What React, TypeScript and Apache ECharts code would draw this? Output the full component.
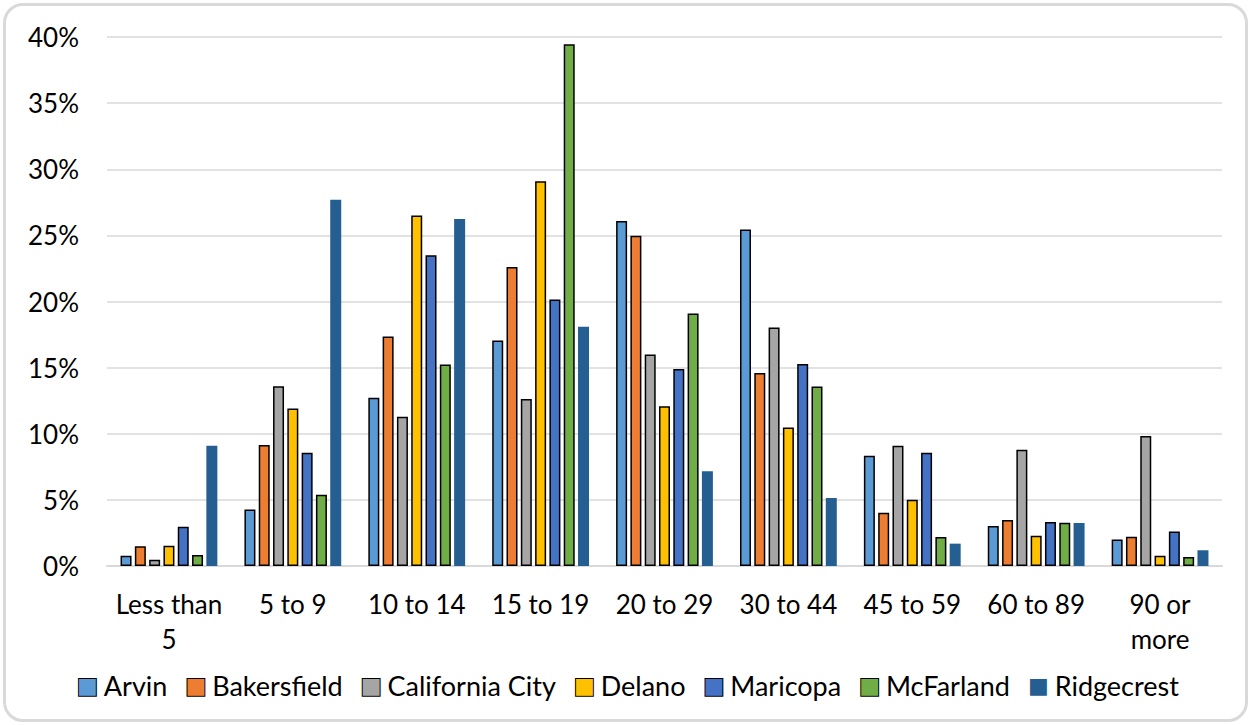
import React, { useEffect, useRef } from "react";
import * as echarts from "echarts";

const categories = ["Less than\n5", "5 to 9", "10 to 14", "15 to 19", "20 to 29", "30 to 44", "45 to 59", "60 to 89", "90 or\nmore"];
const arvin = [0.78, 4.28, 12.72, 17.06, 26.08, 25.45, 8.34, 3.02, 2.01];
const bakersfield = [1.49, 9.14, 17.36, 22.6, 24.97, 14.59, 4.03, 3.48, 2.22];
const californiaCity = [0.48, 13.6, 11.29, 12.62, 16.0, 18.04, 9.09, 8.79, 9.83];
const delano = [1.53, 11.9, 26.5, 29.1, 12.07, 10.48, 5.01, 2.29, 0.78];
const maricopa = [2.97, 8.56, 23.5, 20.16, 14.89, 15.27, 8.57, 3.33, 2.6];
const mcfarland = [0.83, 5.39, 15.24, 39.45, 19.1, 13.58, 2.19, 3.27, 0.68];
const ridgecrest = [9.09, 27.7, 26.23, 18.09, 7.16, 5.14, 1.69, 3.25, 1.19];

const seriesDefs = [
  { name: "Arvin", data: arvin, color: "#5B9BD5", border: true },
  { name: "Bakersfield", data: bakersfield, color: "#ED7D31", border: true },
  { name: "California City", data: californiaCity, color: "#A5A5A5", border: true },
  { name: "Delano", data: delano, color: "#FFC000", border: true },
  { name: "Maricopa", data: maricopa, color: "#4472C4", border: true },
  { name: "McFarland", data: mcfarland, color: "#70AD47", border: true },
  { name: "Ridgecrest", data: ridgecrest, color: "#255E91", border: false },
];

const FONT = "Lato";

export default function App() {
  const ref = useRef<HTMLDivElement>(null);
  useEffect(() => {
    if (!ref.current) return;
    const chart = echarts.init(ref.current, null, { renderer: "svg" });
    const rich: Record<string, any> = {
      t: { fontSize: 27, color: "#000", fontFamily: FONT },
      s: { width: 6, height: 1 },
    };
    seriesDefs.forEach((s, i) => {
      rich["b" + i] = {
        fontFamily: "DejaVu Sans",
        fontSize: 22,
        color: s.color,
        textBorderColor: s.border ? "#000" : s.color,
        textBorderWidth: s.border ? 2 : 0,
      };
    });
    chart.setOption({
      animation: false,
      textStyle: { fontFamily: FONT },
      grid: { left: 107, right: 29, top: 37, bottom: 159 },
      legend: {
        bottom: 21,
        left: "center",
        icon: "none",
        itemWidth: 0,
        itemHeight: 14,
        itemGap: 13,
        textStyle: { fontSize: 27, color: "#000", fontFamily: FONT, rich },
        formatter: (name: string) => {
          const i = seriesDefs.findIndex((s) => s.name === name);
          return `{b${i}|■}{s|}{t|${name}}`;
        },
        data: seriesDefs.map((s) => s.name),
      },
      xAxis: {
        type: "category",
        data: categories,
        axisLine: { lineStyle: { color: "#d9d9d9", width: 2 } },
        axisTick: { show: false },
        axisLabel: { fontSize: 26, color: "#000", fontFamily: FONT, margin: 20, lineHeight: 35, interval: 0 },
      },
      yAxis: {
        type: "value",
        min: 0,
        max: 40,
        interval: 5,
        axisLine: { show: false },
        axisTick: { show: false },
        splitLine: { lineStyle: { color: "#d9d9d9", width: 1.5 } },
        axisLabel: { fontSize: 26, color: "#000", fontFamily: FONT, margin: 28, formatter: (v: number) => v + "%" },
      },
      series: seriesDefs.map((s) => ({
        name: s.name,
        type: "bar",
        data: s.data,
        barWidth: 11,
        barGap: "30%",
        itemStyle: {
          color: s.color,
          borderColor: s.border ? "#000" : s.color,
          borderWidth: s.border ? 1.5 : 0,
        },
      })),
    });
    return () => chart.dispose();
  }, []);
  return (
    <div style={{ position: "fixed", left: 0, top: 0, width: 1251, height: 725, background: "#fff" }}>
      <div
        style={{
          position: "absolute",
          left: 3,
          top: 3,
          width: 1245,
          height: 719,
          boxSizing: "border-box",
          border: "3px solid #d9d9d9",
          borderRadius: 20,
        }}
      />
      <div ref={ref} style={{ position: "absolute", left: 0, top: 0, width: 1251, height: 725 }} />
    </div>
  );
}
